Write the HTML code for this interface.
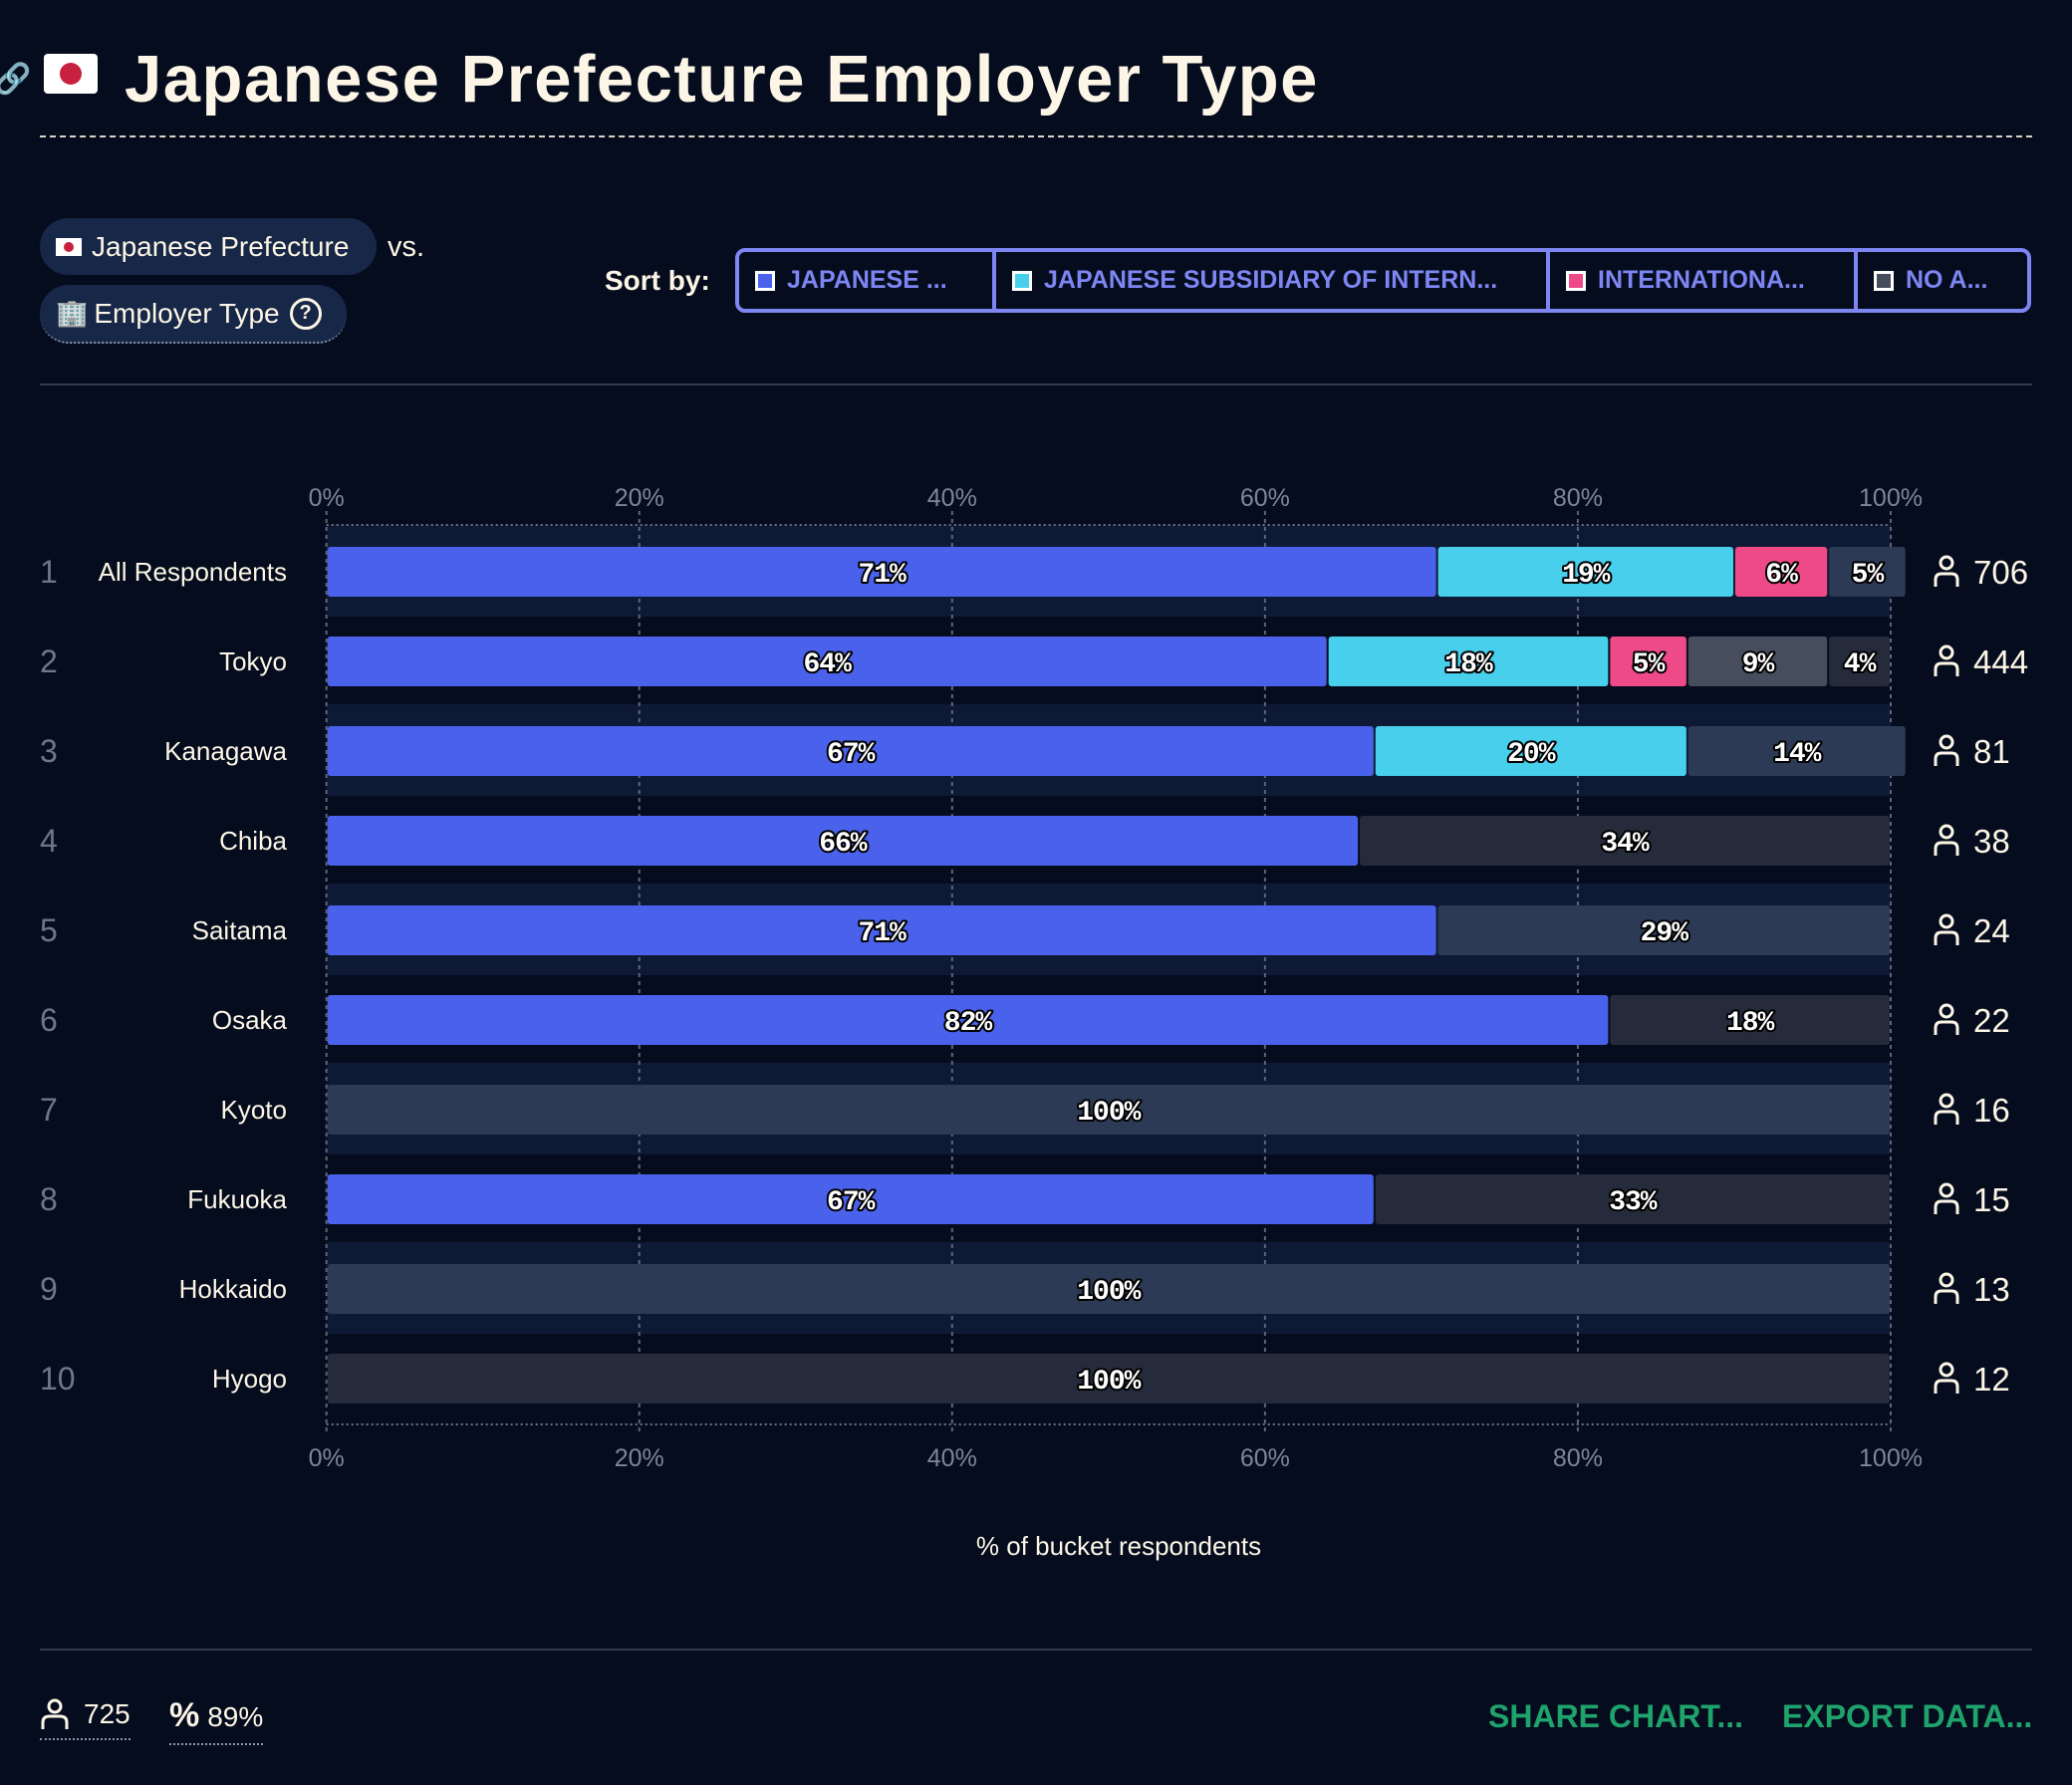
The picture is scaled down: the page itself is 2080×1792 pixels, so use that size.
<!DOCTYPE html>
<html><head><meta charset="utf-8"><style>
html,body{margin:0;padding:0;background:#050c1e;}
body{width:2080px;height:1792px;position:relative;overflow:hidden;font-family:"Liberation Sans","Noto Sans CJK JP",sans-serif;color:#fdf6e6;}
.abs{position:absolute;}
.pill{position:absolute;background:#172747;border-radius:29px;font-size:28px;color:#fdf6e6;display:flex;align-items:center;box-sizing:border-box;padding-left:16px;}
.sortgrp{position:absolute;left:738px;top:249px;width:1301px;height:65px;border:4px solid #7e86f3;border-radius:10px;box-sizing:border-box;display:flex;}
.sortbtn{height:100%;box-sizing:border-box;display:flex;align-items:center;padding-left:16px;font-weight:bold;font-size:25px;color:#7e86f3;border-right:4px solid #7e86f3;white-space:nowrap;}
.sw{width:20px;height:20px;border:3px solid #fff;box-sizing:border-box;margin-right:12px;}
</style></head><body>
<div class="abs" style="left:-6px;top:62px;font-size:30px;color:#3a4358;">&#128279;</div>
<div class="abs" style="left:44px;top:54px;width:54px;height:40px;background:#fff;border-radius:4px;"><div style="position:absolute;left:16px;top:9px;width:22px;height:22px;border-radius:50%;background:#c8203f;"></div></div>
<div class="abs" style="left:125px;top:41px;font-size:67px;font-weight:bold;letter-spacing:1.5px;color:#fdf6e6;">Japanese Prefecture Employer Type</div>
<div class="abs" style="left:40px;top:136px;width:2000px;border-top:2px dashed #d9d4c8;"></div>

<div class="pill" style="left:40px;top:219px;width:338px;height:57px;"><span style="display:inline-block;width:26px;height:18px;background:#fff;margin-right:10px;position:relative;"><span style="position:absolute;left:8px;top:4px;width:10px;height:10px;border-radius:50%;background:#c8203f;"></span></span>Japanese Prefecture</div>
<div class="abs" style="left:389px;top:232px;font-size:29px;">vs.</div>
<div class="pill" style="left:40px;top:286px;width:308px;height:59px;border-bottom:2px dotted #8a93a8;"><span style="font-size:26px;margin-right:6px;">&#127970;</span>Employer Type <span style="display:inline-flex;width:26px;height:26px;border:3px solid #fdf6e6;border-radius:50%;margin-left:10px;font-size:20px;font-weight:bold;align-items:center;justify-content:center;">?</span></div>

<div class="abs" style="left:607px;top:266px;font-size:28px;font-weight:bold;">Sort by:</div>
<div class="sortgrp">
<div class="sortbtn" style="width:258px;"><div class="sw" style="background:#4a62eb"></div>JAPANESE ...</div>
<div class="sortbtn" style="width:556px;"><div class="sw" style="background:#48cfec"></div>JAPANESE SUBSIDIARY OF INTERN...</div>
<div class="sortbtn" style="width:309px;"><div class="sw" style="background:#ef4a88"></div>INTERNATIONA...</div>
<div class="sortbtn" style="border-right:none;"><div class="sw" style="background:#464e5e"></div>NO A...</div>
</div>
<div class="abs" style="left:40px;top:385px;width:2000px;height:2px;background:#333a48;"></div>

<svg id="chart" class="abs" style="left:0;top:0" width="2080" height="1792" xmlns="http://www.w3.org/2000/svg"></svg>

<div class="abs" style="left:40px;top:1655px;width:2000px;height:2px;background:#333a48;"></div>
<div class="abs" style="left:40px;top:1705px;font-size:28px;border-bottom:2px dotted #8a93a8;padding-bottom:8px;display:flex;align-items:center;">
<svg width="30" height="32" viewBox="0 0 30 32" style="margin-right:14px"><circle cx="15" cy="8" r="6" fill="none" stroke="#fdf6e6" stroke-width="3"/><path d="M3 31 V24 Q3 18 10 18 H20 Q27 18 27 24 V31" fill="none" stroke="#fdf6e6" stroke-width="3"/></svg>725</div>
<div class="abs" style="left:170px;top:1703px;font-size:28px;border-bottom:2px dotted #8a93a8;padding-bottom:8px;"><span style="font-weight:bold;font-size:34px;margin-right:8px;">%</span>89%</div>
<div class="abs" style="left:1494px;top:1705px;font-size:32px;font-weight:bold;color:#1fa36c;">SHARE CHART...</div>
<div class="abs" style="left:1789px;top:1705px;font-size:32px;font-weight:bold;color:#1fa36c;">EXPORT DATA...</div>

<script>
const categories = ["All Respondents","Tokyo","Kanagawa","Chiba","Saitama","Osaka","Kyoto","Fukuoka","Hokkaido","Hyogo"];
const counts = [706,444,81,38,24,22,16,15,13,12];
const japanese      = [71,64,67,66,71,82,0,67,0,0];
const subsidiary    = [19,18,20,0,0,0,0,0,0,0];
const international = [6,5,0,0,0,0,0,0,0,0];
const noAnswer      = [0,9,0,0,0,0,0,0,0,0];
const other         = [5,0,14,0,29,0,100,0,100,0];
const unknown       = [0,4,0,34,0,18,0,33,0,100];
const ticks = [0,20,40,60,80,100];
const tickLabels = ["0%","20%","40%","60%","80%","100%"];

const svg = document.getElementById('chart');
const NS = 'http://www.w3.org/2000/svg';
const X0 = 327.7, X1 = 1898;
const xScale = v => X0 + (X1 - X0) * v / 100;
const rowY = i => 574 + 90 * i;
function mk(tag, attrs, text){
  const e = document.createElementNS(NS, tag);
  for (const k in attrs) e.setAttribute(k, attrs[k]);
  if (text !== undefined) e.textContent = text;
  svg.appendChild(e);
  return e;
}
categories.forEach((c,i)=>{
  if (i%2===0){
    const b = mk('rect',{x:X0,y:rowY(i)-47,width:X1-X0,height:92,fill:'#0e1a35'});
    
    
  }
});
ticks.forEach((t,k)=>{
  const g = mk('line',{x1:xScale(t),x2:xScale(t),y1:513,y2:1441,stroke:'#5d6577','stroke-width':2,'stroke-dasharray':'4 4'});
  
  
  const l1 = mk('text',{x:xScale(t),y:508,'text-anchor':'middle','font-size':25,fill:'#7d8599','font-family':'Liberation Sans, sans-serif'},tickLabels[k]);
  
  
  const l2 = mk('text',{x:xScale(t),y:1472,'text-anchor':'middle','font-size':25,fill:'#7d8599','font-family':'Liberation Sans, sans-serif'},tickLabels[k]);
  
  
});
[527,1430].forEach(y=>{
  const a = mk('line',{x1:X0,x2:X1,y1:y,y2:y,stroke:'#6a7285','stroke-width':2,'stroke-dasharray':'2 3'});
  
  
});
const series = [
  {vals:japanese,color:'#4a62eb',name:'japanese'},
  {vals:subsidiary,color:'#48cfec',name:'subsidiary'},
  {vals:international,color:'#ef4a88',name:'international'},
  {vals:noAnswer,color:'#464e5e',name:'no-answer'},
  {vals:other,color:'#2c3a55',name:'other'},
  {vals:unknown,color:'#252b3b',name:'unknown'}
];
categories.forEach((c,i)=>{
  const cy = rowY(i);
  const rk = mk('text',{x:40,y:cy+11,'font-size':32,fill:'#6e7689','font-family':'Liberation Sans, sans-serif'},String(i+1));
  
  
  const nm = mk('text',{x:288,y:cy+9,'text-anchor':'end','font-size':26,fill:'#fdf6e6','font-family':'Liberation Sans, sans-serif'},c);
  
  
  let acc = 0;
  series.forEach(s=>{
    const v = s.vals[i];
    if (!v) return;
    const xa = xScale(acc), xb = xScale(acc+v);
    const r = mk('rect',{x:xa+1,y:cy-25,width:Math.max(0,xb-xa-2),height:50,rx:3,fill:s.color});
    
    
    const t = mk('text',{x:(xa+xb)/2,y:cy+10,'text-anchor':'middle','font-size':28,'font-weight':'bold',fill:'#ffffff',stroke:'#000','stroke-width':4,'paint-order':'stroke','stroke-linejoin':'round','font-family':'Liberation Mono, monospace','letter-spacing':'-1'},v+'%');
    
    
    acc += v;
  });
  const g = mk('g',{transform:'translate(1941,'+(cy-16)+')'});
  
  
  const c1 = document.createElementNS(NS,'circle');
  c1.setAttribute('cx',13);c1.setAttribute('cy',7);c1.setAttribute('r',6);c1.setAttribute('fill','none');c1.setAttribute('stroke','#fdf6e6');c1.setAttribute('stroke-width',3);
  g.appendChild(c1);
  const p = document.createElementNS(NS,'path');
  p.setAttribute('d','M2 31 V24 Q2 18 8 18 H18 Q24 18 24 24 V31');p.setAttribute('fill','none');p.setAttribute('stroke','#fdf6e6');p.setAttribute('stroke-width',3);
  g.appendChild(p);
  const n = mk('text',{x:1981,y:cy+12,'font-size':33,fill:'#fdf6e6','font-family':'Liberation Sans, sans-serif'},String(counts[i]));
  
  
});
const at = mk('text',{x:1123,y:1561,'text-anchor':'middle','font-size':26,fill:'#fdf6e6','font-family':'Liberation Sans, sans-serif'},'% of bucket respondents');


</script>
</body></html>
